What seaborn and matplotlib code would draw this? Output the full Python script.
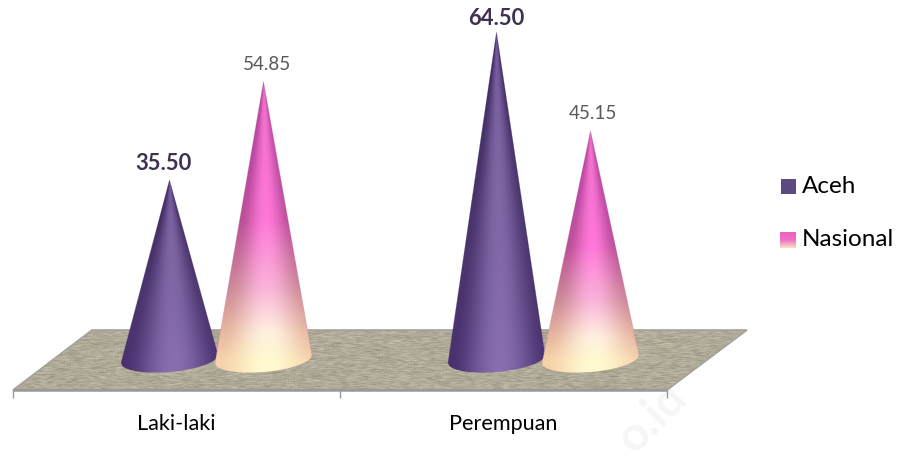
import numpy as np
import pandas as pd
import seaborn as sns
import matplotlib
matplotlib.use("Agg")
import matplotlib.pyplot as plt
from matplotlib.colors import LinearSegmentedColormap
from matplotlib.patches import Polygon

categories = ["Laki-laki", "Perempuan"]
series_names = ["Aceh", "Nasional"]
aceh_values = [35.50, 64.50]
nasional_values = [54.85, 45.15]

W, H = 900, 473
PX_PER_UNIT = 5.1
ZERO_PX = 361
FRONT_LEFT, FRONT_RIGHT, FRONT_Y = 13, 667, 390
DEPTH_X, BACK_Y = 80, 330

sns.set_theme(style="white")
plt.rcParams["font.family"] = ["Lato", "DejaVu Sans"]

df = pd.DataFrame({
    "category": categories * 2,
    "series": [series_names[0]] * 2 + [series_names[1]] * 2,
    "value": aceh_values + nasional_values,
})

fig = plt.figure(figsize=(W / 100, H / 100), dpi=100, facecolor="white")


def px_axes(left, right, top, bottom, **kw):
    return fig.add_axes([left / W, 1 - bottom / H, (right - left) / W, (bottom - top) / H], **kw)


# Pixel-space layer for the floor, legend and faint stamp
canvas = px_axes(0, W, 0, H)
canvas.axis("off")

# Burlap-like floor: hashed grain smeared along the horizontal threads
yy, xx = np.mgrid[BACK_Y:FRONT_Y + 1:1.0, FRONT_LEFT:FRONT_RIGHT + DEPTH_X:1.0]
grain = np.sin(xx * 12.9898 + yy * 78.233) * 43758.5453
grain = grain - np.floor(grain) - 0.5
kernel = np.ones(7) / 7
streaks = np.apply_along_axis(lambda row: np.convolve(row, kernel, mode="same"), 1, grain)
floor_rgb = np.array([0.690, 0.668, 0.595])[None, None, :] + (streaks * 0.22 + grain * 0.05)[..., None]
floor_img = canvas.imshow(np.clip(floor_rgb, 0, 1), extent=(FRONT_LEFT, FRONT_RIGHT + DEPTH_X, FRONT_Y, BACK_Y),
                          aspect="auto", interpolation="bilinear", zorder=1)
floor_shape = Polygon([(FRONT_LEFT, FRONT_Y), (FRONT_LEFT + DEPTH_X - 1, BACK_Y),
                       (FRONT_RIGHT + DEPTH_X, BACK_Y), (FRONT_RIGHT, FRONT_Y)],
                      closed=True, transform=canvas.transData, fill=False, ec="#a3a39b", lw=1.2, zorder=2)
canvas.add_patch(floor_shape)
floor_img.set_clip_path(floor_shape)
canvas.plot([FRONT_LEFT, FRONT_RIGHT], [FRONT_Y, FRONT_Y], color="#989898", lw=1.8, zorder=3, solid_capstyle="butt")
canvas.set_xlim(0, W)
canvas.set_ylim(H, 0)

# Category axis along the front edge of the floor
front = px_axes(FRONT_LEFT, FRONT_RIGHT, FRONT_Y - 30, FRONT_Y, facecolor="none")
front.set_xlim(-0.5, 1.5)
front.set_ylim(0, 1)
front.set_yticks([])
front.set_xticks([0, 1], categories)
front.set_xticks([-0.5, 0.5, 1.5], minor=True)
front.tick_params(axis="x", which="major", length=0, pad=17, labelsize=15.6, labelcolor="black")
front.tick_params(axis="x", which="minor", length=5.5, width=1, color="#989898", direction="out", bottom=True)
for spine in front.spines.values():
    spine.set_visible(False)

# Value axes: cones stand at mid-depth of the floor
ax = px_axes(FRONT_LEFT + DEPTH_X / 2, FRONT_RIGHT + DEPTH_X / 2,
             ZERO_PX - 70 * PX_PER_UNIT, ZERO_PX + 15 * PX_PER_UNIT, facecolor="none")
sns.barplot(data=df, x="category", y="value", hue="series", hue_order=series_names, order=categories,
            width=0.575, gap=0, errorbar=None, legend=False, ax=ax)
ax.set_xlim(-0.5, 1.5)
ax.set_ylim(-15, 70)
ax.axis("off")

# Cone surfaces: one ramp for the lit centre line, one for the shaded flanks
purple_light = LinearSegmentedColormap.from_list("purple_light", ["#74589c", "#7d65a2", "#8268a8", "#886eae"])
purple_flank = LinearSegmentedColormap.from_list("purple_flank", ["#3f2b60", "#463168", "#4a356e", "#4a3270"])
pink_light = LinearSegmentedColormap.from_list(
    "pink_light", [(0, "#f070c8"), (0.3, "#f874d2"), (0.5, "#ff78da"), (0.74, "#fbb4da"),
                   (0.9, "#fff0e0"), (1, "#fffad0")])
pink_flank = LinearSegmentedColormap.from_list(
    "pink_flank", [(0, "#b84aa0"), (0.3, "#ba4aa2"), (0.5, "#bc5098"), (0.74, "#cc8a98"),
                   (0.9, "#e8b8a0"), (1, "#f6d2aa")])
SWATCH_PURPLE = "#5f4a80"
legend_ramp = LinearSegmentedColormap.from_list(
    "legend_ramp", [(0, "#e864bc"), (0.5, "#f070c4"), (0.75, "#f4a8c8"), (1, "#fbe0b8")])


def cone_rgb(u, v, light_cmap, flank_cmap):
    v = np.clip(v, 0, 1)
    lit = np.cos(np.clip(u - 0.08, -1, 1) * np.pi / 2)[..., None] ** 1.6
    return np.clip(light_cmap(v)[..., :3] * lit + flank_cmap(v)[..., :3] * (1 - lit), 0, 1)


unit_x = 654 / 2  # pixels per category step
half_px = 48.5
label_shift = [(-6, 6), (0, 3), (4, 8), (2, 9)]
bars = list(ax.patches)
for i, bar in enumerate(bars):
    bar.set_visible(False)
    xc = bar.get_x() + bar.get_width() / 2
    top = bar.get_height()
    half = half_px / unit_x
    is_pink = i >= len(categories)
    left_y, right_y, depth = -2 / PX_PER_UNIT, 6 / PX_PER_UNIT, 13 / PX_PER_UNIT

    t = np.linspace(-1, 1, 80)
    rim_x = xc + half * t
    rim_y = (left_y + right_y) / 2 + (right_y - left_y) / 2 * t - depth * np.sqrt(1 - t ** 2)
    outline = np.column_stack([np.r_[xc, rim_x], np.r_[top, rim_y]])

    low = rim_y.min() - 0.5
    ny, nx = 500, 220
    gy = np.linspace(top, low, ny)
    gx = np.linspace(xc - half, xc + half, nx)
    mx, my = np.meshgrid(gx, gy)
    v = (top - my) / top
    u = (mx - xc) / (half * np.clip(v, 1e-3, 1))
    rgb = cone_rgb(u, v, pink_light if is_pink else purple_light, pink_flank if is_pink else purple_flank)
    img = ax.imshow(rgb, extent=(xc - half, xc + half, low, top), aspect="auto",
                    interpolation="bilinear", zorder=5 + i)
    shape = Polygon(outline, closed=True, transform=ax.transData, fill=False, ec="none")
    ax.add_patch(shape)
    img.set_clip_path(shape)
    # Soft rim to smooth the clipped silhouette
    edge_col = "#d070b0" if is_pink else "#4f3b6e"
    ax.plot(np.r_[rim_x[0], xc, rim_x[-1]], np.r_[rim_y[0], top, rim_y[-1]], color=edge_col,
            lw=0.5, alpha=0.35, zorder=5 + i)

    dx, dy = label_shift[i]
    if is_pink:
        ax.annotate(f"{top:.2f}", (xc, top), xytext=(dx, dy), textcoords="offset pixels", ha="center",
                    va="bottom", fontsize=13.6, color="#595959", zorder=20)
    else:
        ax.annotate(f"{top:.2f}", (xc, top), xytext=(dx, dy), textcoords="offset pixels", ha="center",
                    va="bottom", fontsize=15.8, fontweight="bold", color="#403152", zorder=20)
ax.set_xlim(-0.5, 1.5)
ax.set_ylim(-15, 70)

# Legend
canvas.add_patch(plt.Rectangle((781, 179), 15, 15, fc=SWATCH_PURPLE, ec="none", zorder=4))
swatch = np.linspace(0, 1, 32)
canvas.imshow(legend_ramp(swatch)[:, None, :3], extent=(780, 796, 248, 232), aspect="auto", zorder=4)
canvas.text(802, 186.5, series_names[0], fontsize=17.5, va="center", color="black", zorder=4)
canvas.text(802, 239.5, series_names[1], fontsize=17.5, va="center", color="black", zorder=4)
canvas.set_xlim(0, W)
canvas.set_ylim(H, 0)

# Pale stamp across the lower right corner
canvas.text(652, 418, "o.id", fontsize=34, fontweight="bold", color="#9a9a9a", alpha=0.09,
            rotation=45, rotation_mode="anchor", ha="center", va="center", zorder=30)

fig.savefig("out.png", dpi=100)
